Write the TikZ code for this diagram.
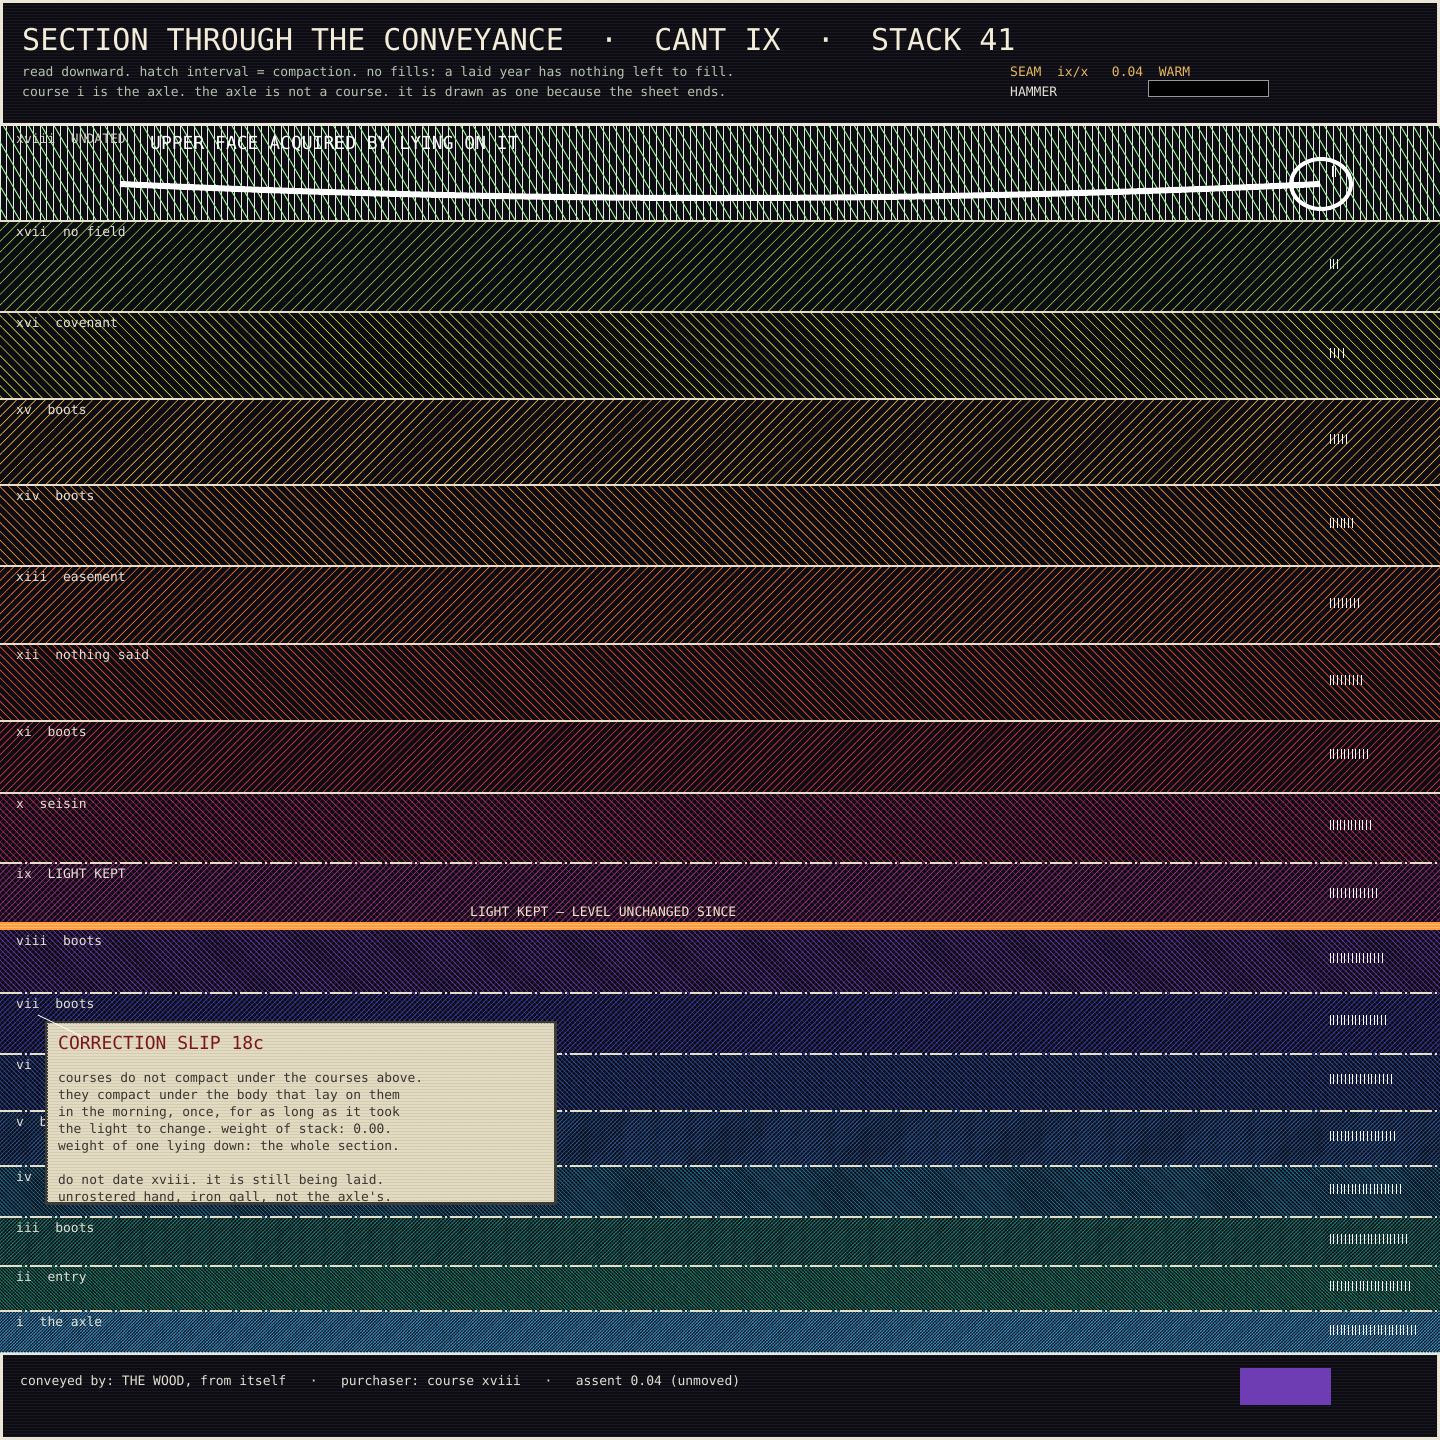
\documentclass[tikz,border=0pt]{standalone}
\usepackage{fontspec}
\setmonofont{DejaVu Sans Mono}
\usetikzlibrary{patterns.meta}
\definecolor{framec}{HTML}{ECE6D6}
\definecolor{bgdark}{HTML}{0D0C13}
\definecolor{scan}{HTML}{1B1A23}
\definecolor{titlec}{HTML}{F2ECD8}
\definecolor{subc}{HTML}{B5C3AE}
\definecolor{goldc}{HTML}{E6B85C}
\definecolor{labtxt}{HTML}{E4E0D4}
\definecolor{sepc}{HTML}{E6DFCA}
\definecolor{cxviii}{HTML}{9CF09A}
\definecolor{vxviii}{HTML}{E4ECDE}
\definecolor{cxvii}{HTML}{86CC48}
\definecolor{cxvi}{HTML}{CCD43E}
\definecolor{cxv}{HTML}{EEB040}
\definecolor{cxiv}{HTML}{F89236}
\definecolor{cxiii}{HTML}{F87030}
\definecolor{cxii}{HTML}{F05032}
\definecolor{cxi}{HTML}{E03446}
\definecolor{cx}{HTML}{C02C6A}
\definecolor{cix}{HTML}{A8328E}
\definecolor{cviii}{HTML}{6A3AAE}
\definecolor{cvii}{HTML}{3E40B4}
\definecolor{cvi}{HTML}{3052AC}
\definecolor{cv}{HTML}{2C62A8}
\definecolor{civ}{HTML}{22789E}
\definecolor{ciii}{HTML}{228678}
\definecolor{cii}{HTML}{208A70}
\definecolor{ci}{HTML}{3F9FD8}
\definecolor{orangec}{HTML}{FF9C40}
\definecolor{orangelt}{HTML}{FFB868}
\definecolor{lightc}{HTML}{F3E4C4}
\definecolor{slipfill}{HTML}{E2DBC2}
\definecolor{slipline}{HTML}{D2CAB0}
\definecolor{slipedge}{HTML}{3D3B38}
\definecolor{sliptitle}{HTML}{7B1520}
\definecolor{sliptext}{HTML}{3A3530}
\definecolor{purplec}{HTML}{6E3DB4}
\begin{document}
\begin{tikzpicture}[x=1pt,y=-1pt,
  lab/.style={anchor=base west,inner sep=0pt,font=\ttfamily\fontsize{13}{15}\selectfont,text=labtxt},
  sepline/.style={draw=sepc,line width=1.3pt},
  dsepline/.style={draw=sepc,line width=1.2pt,dash pattern=on 22pt off 3pt on 2pt off 3pt},
  tickmark/.style={draw=white,line width=1pt},
  sliptxt/.style={anchor=base west,inner sep=0pt,font=\ttfamily\fontsize{12.9}{15}\selectfont,text=sliptext},
]
\useasboundingbox (0,0) rectangle (1440,1440);
\fill[framec] (0,0) rectangle (1440,1440);
% header
\fill[bgdark] (3,3) rectangle (1437,123);
\fill[pattern={Lines[angle=0,distance=3pt,line width=1pt]},pattern color=scan] (3,3) rectangle (1437,123);
\node[anchor=base west,inner sep=0pt,font=\ttfamily\fontsize{30}{34}\selectfont,text=titlec] (title) at (22,50)
  {SECTION THROUGH THE CONVEYANCE\ \ ·\ \ CANT IX\ \ ·\ \ STACK 41};
\node[lab,text=subc] (sub1) at (22,76) {read downward. hatch interval = compaction. no fills: a laid year has nothing left to fill.};
\node[lab,text=subc] (sub2) at (22,96) {course i is the axle. the axle is not a course. it is drawn as one because the sheet ends.};
\node[lab,text=goldc] (seam) at (1010,76) {SEAM\ \ ix/x\ \ \ 0.04\ \ WARM};
\node[lab,text=labtxt] (hammer) at (1010,96) {HAMMER};
\node[draw=gray!80,line width=1pt,fill=black,minimum width=120pt,minimum height=16pt,inner sep=0pt,anchor=north west] (hammerbar) at (1148,80) {};
% bands background
\fill[bgdark] (0,126) rectangle (1440,1352);
% band xviii
\fill[pattern={Lines[angle=90,distance=6.7pt,line width=0.9pt]},pattern color=vxviii] (0,126) rectangle (1440,220);
\fill[pattern={Lines[angle=-60,distance=11pt,line width=1pt]},pattern color=cxviii] (0,126) rectangle (1440,220);
\def\bandlist{
1/221/312/cxvii/45/7.5/0/1/{xvii\ \ no field}/264/3/7,
2/312/399/cxvi/-45/7.1/0/1/{xvi\ \ covenant}/353/4/13,
3/399/485/cxv/45/6.7/0/1/{xv\ \ boots}/439/5/16,
4/485/566/cxiv/-45/6.3/0/1/{xiv\ \ boots}/523/7/22,
5/566/644/cxiii/45/5.9/0/1/{xiii\ \ easement}/603/8/28,
6/644/721/cxii/-45/5.5/0/1/{xii\ \ nothing said}/680/9/31,
7/721/793/cxi/45/5.1/0/1/{xi\ \ boots}/754/11/37,
8/793/863/cx/-45/4.7/1/1/{x\ \ seisin}/825/12/40,
9/863/922/cix/45/4.3/1/2/{ix\ \ LIGHT KEPT}/893/13/46,
10/930/993/cviii/-45/3.9/1/0/{viii\ \ boots}/958/15/52,
11/993/1054/cvii/45/3.6/1/2/{vii\ \ boots}/1020/16/55,
12/1054/1111/cvi/-45/3.3/1/2/{vi}/1079/17/61,
13/1111/1166/cv/45/3.0/1/2/{v\ \ b}/1136/18/64,
14/1166/1217/civ/-45/2.8/1/2/{iv}/1189/20/70,
15/1217/1266/ciii/45/2.6/1/2/{iii\ \ boots}/1239/21/76,
16/1266/1311/cii/-45/2.4/1/2/{ii\ \ entry}/1286/22/79,
17/1311/1352/ci/45/2.2/1/2/{i\ \ the axle}/1330/24/85}
\foreach \i/\t/\b/\c/\a/\d/\cr/\sk/\lab/\ty/\n/\w in \bandlist {
  \fill[pattern={Lines[angle=\a,distance=\d pt,line width=0.65pt]},pattern color=\c] (0,\t) rectangle (1440,\b);
  \ifnum\cr=1
    \fill[pattern={Lines[angle=\a+90,distance=\d pt,line width=0.6pt]},pattern color=\c,opacity=0.45] (0,\t) rectangle (1440,\b);
  \fi
}
% light kept seam
\fill[orangec] (0,922) rectangle (1440,930);
\draw[orangelt,line width=0.8pt] (0,924.5) -- (1440,924.5) (0,927.5) -- (1440,927.5);
\foreach \i/\t/\b/\c/\a/\d/\cr/\sk/\lab/\ty/\n/\w in \bandlist {
  \ifnum\sk=1 \draw[sepline] (0,\t) -- (1440,\t); \fi
  \ifnum\sk=2 \draw[dsepline] (0,\t) -- (1440,\t); \fi
  \foreach \k in {1,...,\n} {
    \draw[tickmark] ({1330+(\k-1)*\w/(\n-1)},\ty-5) -- ++(0,10);
  }
  \node[lab] (lab\i) at (16,\t+15) {\lab};
}
% xviii contents
\node[lab,text=labtxt!85!gray] (labxviii) at (16,143) {xviii\ \ UNDATED};
\node[anchor=base west,inner sep=0pt,font=\ttfamily\fontsize{18}{20}\selectfont,text=white] (upper) at (150,149) {UPPER FACE ACQUIRED BY LYING ON IT};
\draw[white,line width=6pt] (120,184) parabola bend (720,198) (1320,184);
\draw[white,line width=4pt] (1321,184) ellipse [x radius=30,y radius=25];
\draw[tickmark,line width=0.8pt] (1332.5,166) -- (1332.5,177) (1335,166) -- (1335,177);
\node[lab,text=lightc] (lk) at (470,916) {LIGHT KEPT — LEVEL UNCHANGED SINCE};
% correction slip
\node[draw=slipedge,line width=2pt,fill=slipfill,minimum width=508pt,minimum height=180pt,inner sep=0pt,anchor=north west] (slip) at (46,1022) {};
\begin{scope}
\clip (46,1022) rectangle (554,1202);
\fill[pattern={Lines[angle=0,distance=3pt,line width=0.8pt]},pattern color=slipline] (46,1022) rectangle (554,1202);
\node[anchor=base west,inner sep=0pt,font=\ttfamily\fontsize{18}{20}\selectfont,text=sliptitle] (sliphead) at (58,1049) {CORRECTION SLIP 18c};
\node[sliptxt] (s1) at (58,1082) {courses do not compact under the courses above.};
\node[sliptxt] (s2) at (58,1099) {they compact under the body that lay on them};
\node[sliptxt] (s3) at (58,1116) {in the morning, once, for as long as it took};
\node[sliptxt] (s4) at (58,1133) {the light to change. weight of stack: 0.00.};
\node[sliptxt] (s5) at (58,1150) {weight of one lying down: the whole section.};
\node[sliptxt] (s6) at (58,1184) {do not date xviii. it is still being laid.};
\node[sliptxt] (s7) at (58,1201) {unrostered hand, iron gall, not the axle's.};
\end{scope}
\draw[slipedge,line width=2pt] (slip.north west) rectangle (slip.south east);
\coordinate (leadA) at (38,1015);
\coordinate (leadB) at (83,1037);
\draw[white,line width=0.8pt] (leadA) -- (leadB);
% footer
\fill[bgdark] (3,1355) rectangle (1437,1437);
\fill[pattern={Lines[angle=0,distance=3pt,line width=1pt]},pattern color=scan] (3,1355) rectangle (1437,1437);
\node[lab] (foot) at (20,1385) {conveyed by: THE WOOD, from itself\ \ \ ·\ \ \ purchaser: course xviii\ \ \ ·\ \ \ assent 0.04 (unmoved)};
\node[fill=purplec,minimum width=91pt,minimum height=37pt,inner sep=0pt,anchor=north west] (assent) at (1240,1368) {};
\end{tikzpicture}
\end{document}
